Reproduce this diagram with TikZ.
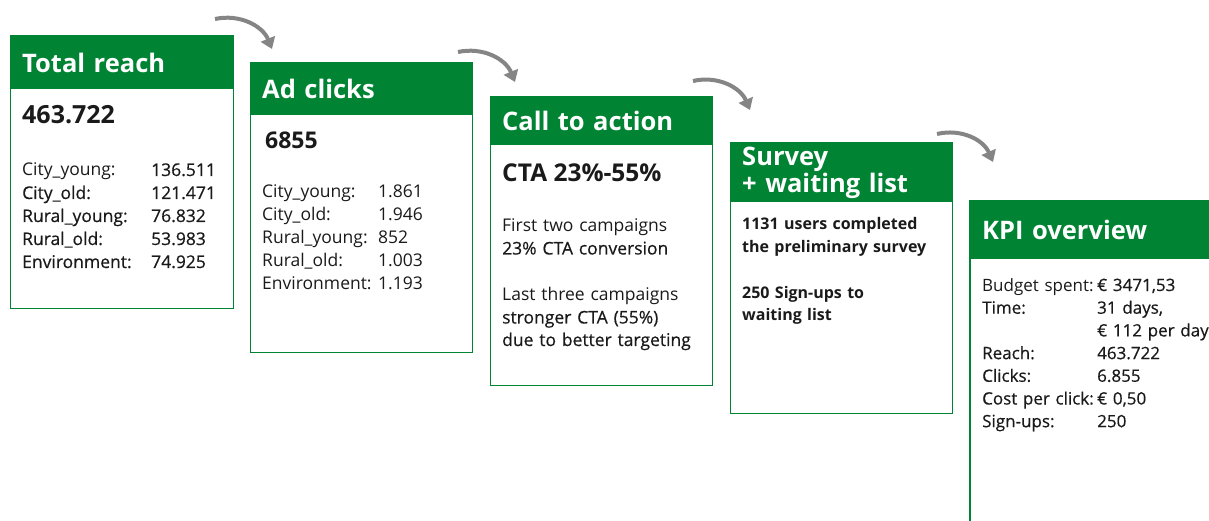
\documentclass[tikz,border=0pt]{standalone}
\usepackage{fontspec}
\setmainfont{Open Sans}
\newfontfamily\valfont[FakeBold=0.5]{Open Sans}
\usetikzlibrary{arrows.meta}
\definecolor{kpigreen}{HTML}{008434}
\definecolor{arrowgray}{HTML}{858585}
\definecolor{ink}{HTML}{1A1A1A}
\tikzset{card/.style={draw=kpigreen, line width=1pt, anchor=north west, inner sep=0, outer sep=0},
	head/.style={fill=kpigreen, text=white, anchor=north west, inner xsep=12pt, inner ysep=0, align=left, text width=199pt, font=\fontsize{25.5}{27}\selectfont\bfseries},
	bignum/.style={anchor=base west, inner sep=0, text=ink, font=\fontsize{25}{30}\selectfont\bfseries},
	body/.style={anchor=base west, inner sep=0, text=ink, align=left, text width=260pt, font=\fontsize{17.5}{23}\selectfont},
	flow/.style={-{Triangle[width=15pt,length=11pt]}, color=arrowgray, line width=4pt}}
\newcommand\kvline[3]{\makebox[#1][l]{#2}#3}

\begin{document}
\begin{tikzpicture}[x=1pt, y=-1pt]
	\useasboundingbox (0,0) rectangle (1209,521);
	\clip (0,0) rectangle (1209,521);
	% cards
	\node[card, minimum width=223pt, minimum height=272pt] (reach) at (10,36) {};
	\node[card, minimum width=222pt, minimum height=289pt] (clicks) at (250,63) {};
	\node[card, minimum width=222pt, minimum height=288pt] (cta) at (490,97) {};
	\node[card, minimum width=222pt, minimum height=270pt] (survey) at (730,143) {};
	\node[card, line width=1.8pt, minimum width=300pt, minimum height=400pt] (kpi) at (970,201) {};
	% headers
	\node[head, minimum height=53pt] (reachhd) at (reach.north west) {Total reach};
	\node[head, minimum height=52pt] (clickshd) at (clicks.north west) {Ad clicks};
	\node[head, minimum height=48pt] (ctahd) at (cta.north west) {Call to action};
	\node[head, minimum height=59pt] (surveyhd) at (survey.north west) {Survey\\+ waiting list};
	\node[head, minimum height=58pt, text width=260pt] (kpihd) at (kpi.north west) {KPI overview};
	% contents
	\node[bignum] (reachnum) at (22,124) {463.722};
	\node[body] (reachrows) at (22,176) {\kvline{129pt}{City\_young:}{\valfont 136.511}\\
		\kvline{129pt}{City\_old:}{\valfont 121.471}\\
		\kvline{129pt}{Rural\_young:}{\valfont 76.832}\\
		\kvline{129pt}{Rural\_old:}{\valfont 53.983}\\
		\kvline{129pt}{Environment:}{\valfont 74.925}};
	\node[bignum, font=\fontsize{23}{28}\selectfont\bfseries] (clicksnum) at (265,149) {6855};
	\node[body] (clicksrows) at (262,198) {\kvline{116pt}{City\_young:}{1.861}\\
		\kvline{116pt}{City\_old:}{1.946}\\
		\kvline{116pt}{Rural\_young:}{852}\\
		\kvline{116pt}{Rural\_old:}{1.003}\\
		\kvline{116pt}{Environment:}{1.193}};
	\node[bignum, font=\fontsize{24.5}{28}\selectfont\bfseries] (ctanum) at (502,182) {CTA 23\%-55\%};
	\node[body, font=\fontsize{17.5}{22.5}\selectfont] (ctatext) at (502,232) {First two campaigns\\
		{\valfont 23\% CTA conversion}\\[24pt]
		Last three campaigns\\
		{\valfont stronger CTA (55\%)}\\
		{\valfont due to better targeting}};
	\node[body, font=\fontsize{16}{22}\selectfont\bfseries] (surveytext) at (742,230) {1131 users completed\\
		the preliminary survey\\[24pt]
		250 Sign-ups to\\
		waiting list};
	\node[body, font=\fontsize{17}{22.7}\selectfont] (kpirows) at (982,291) {\kvline{115pt}{Budget spent:}{\valfont € 3471,53}\\
		\kvline{115pt}{Time:}{\valfont 31 days,}\\
		\kvline{115pt}{}{\valfont € 112 per day}\\
		\kvline{115pt}{Reach:}{\valfont 463.722}\\
		\kvline{115pt}{Clicks:}{\valfont 6.855}\\
		\kvline{115pt}{Cost per click:}{\valfont € 0,50}\\
		\kvline{115pt}{Sign-ups:}{\valfont 250}};
	% arrows
	\coordinate (a1) at (215,19);
	\coordinate (b1) at (272,49);
	\coordinate (a2) at (458,52);
	\coordinate (b2) at (515,82);
	\coordinate (a3) at (693,81);
	\coordinate (b3) at (750,110);
	\coordinate (a4) at (937,134);
	\coordinate (b4) at (993,162);
	\path[flow]
		(a1) edge [bend left=40] (b1)
		(a2) edge [bend left=40] (b2)
		(a3) edge [bend left=40] (b3)
		(a4) edge [bend left=40] (b4)
		;
\end{tikzpicture}
\end{document}
